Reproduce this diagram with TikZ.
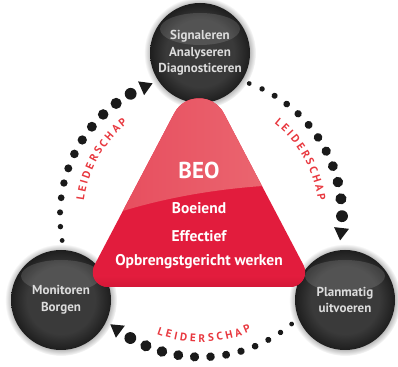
\documentclass[tikz,border=0pt]{standalone}
\usepackage{fontspec}
\setmainfont{PT Sans}
\usetikzlibrary{decorations.text,shadows}

\definecolor{beored}{HTML}{E21C3D}
\definecolor{beolight}{HTML}{E6485A}
\definecolor{beoshine}{HTML}{EC6E76}
\definecolor{beodark}{HTML}{C91332}
\definecolor{circmid}{HTML}{3A3A3A}
\definecolor{circedge}{HTML}{1E1E1E}
\definecolor{circtext}{HTML}{DCDCDC}
\definecolor{dotcol}{HTML}{1A1A1A}
\definecolor{leidercol}{HTML}{E8383F}

% dark disc with a darker rim
\pgfdeclareradialshading{disc}{\pgfpointorigin}{%
  color(0bp)=(circmid); color(17bp)=(circmid);
  color(25bp)=(circedge); color(50bp)=(circedge)}

% outline of the red triangle, corners rounded by hand
\newcommand{\beoshape}{(223.8,252.8) arc[start angle=27.7, end angle=152.3, radius=28]
  -- (94.5,101) arc[start angle=152.2, end angle=270, radius=15]
  -- (290.2,79) arc[start angle=270, end angle=387.8, radius=15] -- cycle}

\tikzset{
  phase/.style={circle, minimum size=100pt, inner sep=0pt, shade, shading=disc,
    circular glow={fill=black, opacity=0.35, shadow scale=1.12},
    path picture={\fill[white, opacity=0.13] ([yshift=24pt]path picture bounding box.center)
      ellipse[x radius=40pt, y radius=16pt];},
    text=circtext, align=center, font=\bfseries\fontsize{13}{16.5}\selectfont},
  beotext/.style={text=white, font=\bfseries\fontsize{15.5}{18}\selectfont},
  pip/.style={fill=dotcol},
  leider/.style={decorate, decoration={text along path, text align={fit to path},
    text color=leidercol, text={|\bfseries\fontsize{11}{12}\selectfont|LEIDERSCHAP}}}
}

\begin{document}
\begin{tikzpicture}[x=1pt, y=1pt]
    \useasboundingbox (0,0) rectangle (398,366);
    \coordinate (c) at (201,150);

    % Dotted arcs between the phases, dots growing towards the arrow head
    \foreach \k in {0,1,2} {
        \begin{scope}[shift={(c)}, rotate=-120*\k]
            \foreach \i in {0,...,11}
                \fill[pip] ({190-5.6*\i-0.07*\i*\i}:141) circle[radius=2.4+0.32*\i];
            \fill[pip, rotate=113.5] (141,-8.5) -- (133.5,4) -- (148.5,4) -- cycle;
        \end{scope}
    }

    % Leadership labels along the arcs
    \path[leider, shift={(c)}] (172.5:118) arc[start angle=172.5, end angle=128.5, radius=118];
    \path[leider, shift={(c)}] (51.5:118) arc[start angle=51.5, end angle=7.5, radius=118];
    \path[leider, shift={(c)}] (-110.5:126) arc[start angle=-110.5, end angle=-66.5, radius=126];

    % The three phases
    \node[phase] (sig) at (200,313) {Signaleren\\Analyseren\\Diagnosticeren};
    \node[phase] (plan) at (345,66) {Planmatig\\uitvoeren};
    \node[phase] (mon) at (61,66) {Monitoren\\Borgen};

    % Red triangle with a glossy upper half
    \begin{scope}
        \clip \beoshape;
        \fill[beored] (80,70) rectangle (320,310);
        \shade[left color=beolight, right color=beoshine] (80,140) .. controls (150,168) and (230,182) .. (320,182)
            -- (320,310) -- (80,310) -- cycle;
        \shade[top color=beored, bottom color=beodark] (80,70) rectangle (320,90);
    \end{scope}

    % Triangle text
    \node[beotext, font=\bfseries\fontsize{23}{26}\selectfont] (beo) at (199,196) {BEO};
    \node[beotext] (boeiend) at (199,158) {Boeiend};
    \node[beotext] (effectief) at (199,130) {Effectief};
    \node[beotext] (opbrengst) at (199,104) {Opbrengstgericht werken};

\end{tikzpicture}
\end{document}
